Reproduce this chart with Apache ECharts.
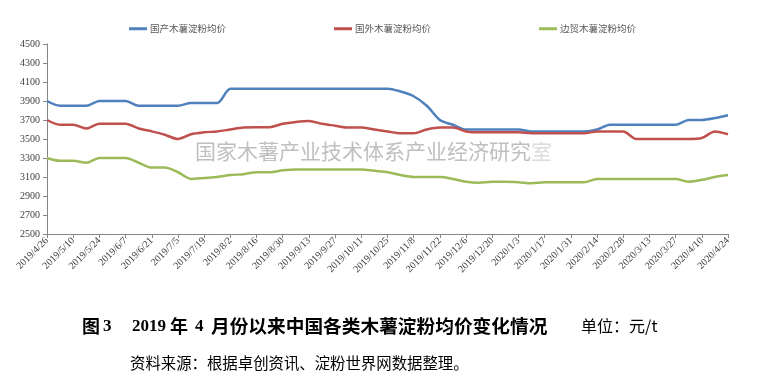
<!DOCTYPE html>
<html><head><meta charset="utf-8">
<script src="https://cdn.jsdelivr.net/npm/echarts@6/dist/echarts.min.js"></script>
<style>html,body{margin:0;padding:0;background:#fff}#c{width:762px;height:388px}</style>
</head><body><div id="c"></div>
<script>
const categories = ["2019/4/26","2019/5/3","2019/5/10","2019/5/17","2019/5/24","2019/5/31","2019/6/7","2019/6/14","2019/6/21","2019/6/28","2019/7/5","2019/7/12","2019/7/19","2019/7/26","2019/8/2","2019/8/9","2019/8/16","2019/8/23","2019/8/30","2019/9/6","2019/9/13","2019/9/20","2019/9/27","2019/10/4","2019/10/11","2019/10/18","2019/10/25","2019/11/1","2019/11/8","2019/11/15","2019/11/22","2019/11/29","2019/12/6","2019/12/13","2019/12/20","2019/12/27","2020/1/3","2020/1/10","2020/1/17","2020/1/24","2020/1/31","2020/2/7","2020/2/14","2020/2/21","2020/2/28","2020/3/6","2020/3/13","2020/3/20","2020/3/27","2020/4/3","2020/4/10","2020/4/17","2020/4/24"];
const domestic = [3900,3850,3850,3850,3900,3900,3900,3850,3850,3850,3850,3880,3880,3880,4030,4030,4030,4030,4030,4030,4030,4030,4030,4030,4030,4030,4030,4000,3950,3850,3700,3650,3600,3600,3600,3600,3600,3580,3580,3580,3580,3580,3600,3650,3650,3650,3650,3650,3650,3700,3700,3720,3750];
const foreign = [3700,3650,3650,3610,3660,3660,3660,3610,3580,3545,3500,3550,3570,3580,3600,3620,3625,3625,3660,3680,3690,3660,3640,3620,3620,3600,3580,3560,3560,3600,3620,3620,3580,3570,3570,3570,3570,3560,3560,3560,3560,3560,3580,3580,3580,3500,3500,3500,3500,3500,3510,3580,3550];
const border = [3300,3270,3270,3250,3300,3300,3300,3250,3200,3200,3150,3080,3090,3100,3120,3130,3150,3150,3170,3180,3180,3180,3180,3180,3180,3165,3150,3120,3100,3100,3100,3080,3050,3040,3050,3050,3045,3035,3045,3045,3045,3045,3080,3080,3080,3080,3080,3080,3080,3050,3070,3100,3120];
const seriesNames = ["国产木薯淀粉均价","国外木薯淀粉均价","边贸木薯淀粉均价"];
const yMin = 2500, yMax = 4500, yStep = 200;

const serif = "'Liberation Serif','Noto Sans CJK SC',serif";
const cjk = "'Noto Sans CJK SC',sans-serif";
const chart = echarts.init(document.getElementById('c'), null, {renderer:'canvas'});
const mk = (name, data, color) => ({
  name, type:'line', data, smooth:0.3, symbol:'none',
  lineStyle:{width:2.5, color}, itemStyle:{color}
});
chart.setOption({
  animation:false,
  color:['#4F81BD','#C0504D','#9BBB59'],
  legend:{
    left:124, top:19, icon:'rect', itemWidth:18, itemHeight:3, itemGap:108,
    textStyle:{fontFamily:cjk, fontSize:9.5, color:'#595959', padding:[0,0,0,-2]},
    data:seriesNames
  },
  grid:{left:47, right:34, top:44, bottom:154, containLabel:false},
  xAxis:{
    type:'category', data:categories, boundaryGap:false,
    axisLine:{lineStyle:{color:'#868686', width:1}},
    axisTick:{interval:1, length:4, lineStyle:{color:'#868686'}},
    axisLabel:{interval:1, rotate:45, fontFamily:serif, fontSize:10, color:'#404040', margin:5}
  },
  yAxis:{
    type:'value', min:yMin, max:yMax, interval:yStep,
    splitLine:{show:false},
    axisLine:{show:true, lineStyle:{color:'#868686', width:1}},
    axisTick:{show:true, length:4, lineStyle:{color:'#868686'}},
    axisLabel:{fontFamily:serif, fontSize:10, color:'#404040', margin:7, formatter:(v)=>String(v)}
  },
  series:[mk(seriesNames[0], domestic, '#4F81BD'), mk(seriesNames[1], foreign, '#C0504D'), mk(seriesNames[2], border, '#9BBB59')],
  graphic:[
    {type:'text', left:195, top:141, z:-1, style:{
      text:'{a|国家木薯产业技术体系产业经济研究}{b|室}',
      rich:{a:{fontFamily:cjk, fontSize:21, fill:'#bfbfbf'}, b:{fontFamily:cjk, fontSize:21, fill:'#dcdcdc'}}
    }},
    {type:'text', left:82, top:317, style:{text:'图', fontFamily:cjk, fontSize:18, fontWeight:'bold', fill:'#000'}},
    {type:'text', left:103, top:318, style:{text:'3', fontFamily:serif, fontSize:17, fontWeight:'bold', fill:'#000'}},
    {type:'text', left:132, top:318, style:{text:'2019', fontFamily:serif, fontSize:17, fontWeight:'bold', fill:'#000'}},
    {type:'text', left:170, top:317, style:{text:'年', fontFamily:cjk, fontSize:18, fontWeight:'bold', fill:'#000'}},
    {type:'text', left:195, top:318, style:{text:'4', fontFamily:serif, fontSize:17, fontWeight:'bold', fill:'#000'}},
    {type:'text', left:211, top:317, style:{text:'月份以来中国各类木薯淀粉均价变化情况', fontFamily:cjk, fontSize:18.7, fontWeight:'bold', fill:'#000'}},
    {type:'text', left:581, top:318, style:{text:'单位：元/t', fontFamily:cjk, fontSize:16, fill:'#000'}},
    {type:'text', left:130, top:355, style:{text:'资料来源：根据卓创资讯、淀粉世界网数据整理。', fontFamily:cjk, fontSize:15.4, fill:'#000'}}
  ]
});
</script></body></html>
